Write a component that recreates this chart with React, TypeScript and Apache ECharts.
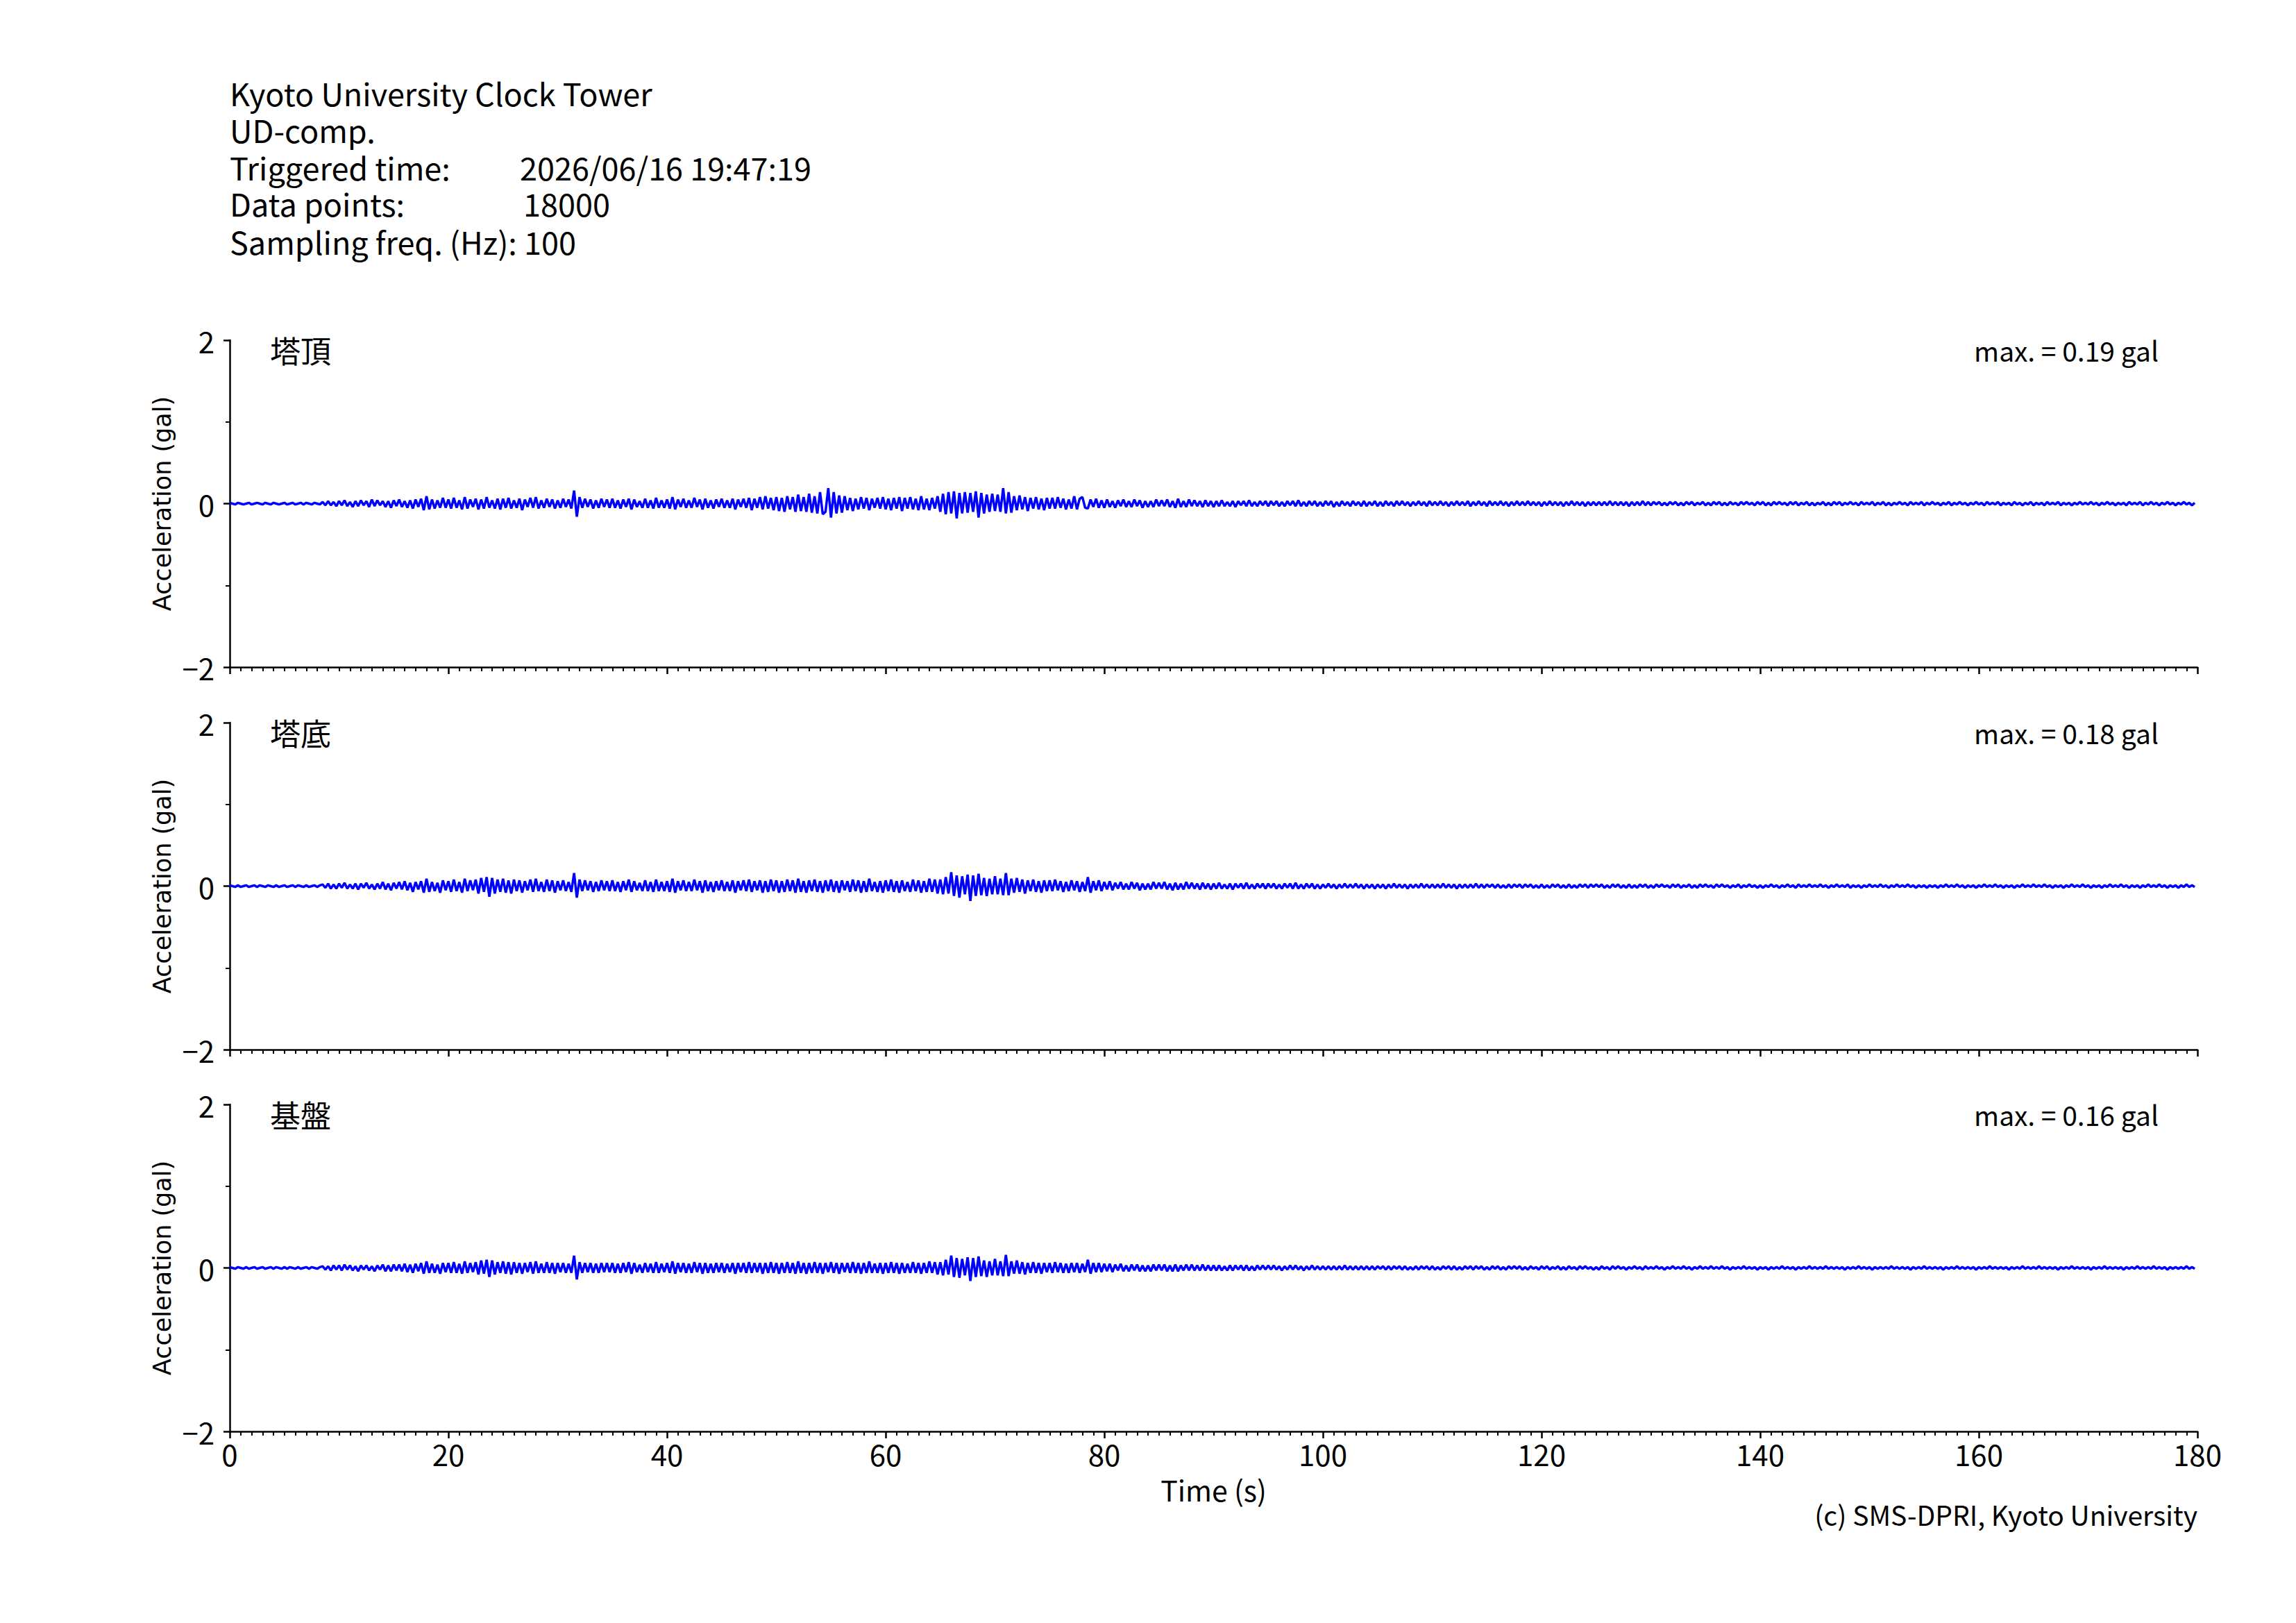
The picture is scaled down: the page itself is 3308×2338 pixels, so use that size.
import React, { useEffect, useRef } from "react";
import * as echarts from "echarts";

// sampling step of the listed peak values (s)
const DT = 0.25;
const X_TICKS = [0, 20, 40, 60, 80, 100, 120, 140, 160, 180];
const Y_TICKS = [-2, 0, 2];

// Acceleration values, in units of 0.01 gal, one row = 5 s
const TOP_ACC = [
  1,0,-1,1,0,-1,0,1,-1,0,1,0,-1,1,0,-1,1,0,-1,0,
  1,-1,0,1,-1,0,1,-1,1,0,-1,1,0,-1,2,-2,3,-2,2,-3,
  3,-2,4,-3,2,-4,3,-3,4,-2,3,-4,5,-3,4,-2,3,-4,3,-5,
  4,-3,5,-4,3,-5,4,-6,5,-4,6,-8,9,-7,5,-6,4,-5,7,-5,
  5,-6,7,-5,4,-7,8,-6,5,-4,6,-7,5,-6,8,-5,4,-6,6,-7,
  6,-5,7,-6,4,-5,6,-8,5,-4,7,-5,8,-6,4,-5,6,-4,5,-6,
  4,-5,6,-4,5,-6,16,-16,8,-5,6,-4,5,-6,4,-5,6,-4,5,-5,
  6,-5,4,-6,5,-4,6,-7,5,-4,3,-5,6,-5,4,-6,7,-5,4,-5,
  5,-6,8,-7,5,-4,6,-5,4,-5,7,-4,5,-7,6,-5,4,-6,5,-4,
  6,-5,4,-5,6,-7,5,-4,6,-5,7,-8,6,-5,8,-7,9,-6,7,-8,
  8,-9,7,-10,9,-7,8,-10,11,-9,8,-10,12,-11,9,-12,14,-13,-10,19,
  -17,14,-12,10,-11,9,-8,7,-9,6,-7,8,-6,7,-8,6,-5,7,-6,8,
  -7,6,-8,7,-6,8,-9,7,-6,8,-7,6,-8,9,-7,6,-8,7,-6,9,
  -10,12,-13,14,-12,15,-18,13,-12,14,-11,13,-10,15,-17,13,-12,11,-10,12,
  -9,11,-10,19,-12,14,-11,9,-8,10,-7,8,-9,7,-6,8,-7,6,-8,7,
  -6,7,-6,8,-5,6,-7,5,-6,9,-7,6,8,-5,-6,5,-4,6,-5,4,
  -5,5,-4,3,-5,4,-3,5,-4,3,-4,5,-3,4,-5,3,-4,3,-4,5,
  -3,4,-3,5,-4,3,-5,6,-4,3,-4,5,-3,4,-3,3,-4,4,-3,3,
  -4,3,-3,4,-3,2,-3,3,-4,3,-2,3,-3,4,-3,2,-3,3,-2,3,
  -3,3,-2,3,-3,2,-3,3,-2,3,-3,4,-3,2,-3,3,-2,3,-3,2,
  -3,3,-2,3,-4,2,-3,3,-2,2,-3,3,-2,2,-3,3,-3,2,-2,3,
  -3,2,-3,3,-2,2,-3,3,-2,3,-2,2,-3,2,-2,3,-2,2,-3,3,
  -2,2,-2,3,-2,2,-3,2,-2,3,-2,2,-2,3,-3,2,-2,3,-2,2,
  -3,3,-2,2,-2,3,-2,2,-3,2,-2,3,-2,2,-2,3,-2,2,-2,2,
  -3,2,-2,3,-2,2,-2,2,-3,2,-2,3,-2,2,-2,2,-3,2,-2,2,
  -2,2,-2,2,-2,3,-2,2,-2,2,-2,2,-3,2,-2,2,-2,3,-2,2,
  -2,2,-1,2,-2,1,-2,2,-1,2,-2,1,-2,2,-1,2,-2,1,-1,2,
  -2,1,-2,2,-1,2,-2,1,-2,2,-1,1,-2,2,-1,2,-1,1,-2,2,
  -1,2,-2,1,-2,2,-1,2,-1,1,-2,2,-1,2,-2,1,-1,2,-2,1,
  -2,1,-1,2,-2,1,-2,2,-1,2,-2,1,-1,2,-1,1,-2,2,-1,1,
  -1,2,-2,1,-1,2,-2,1,-2,1,-1,2,-1,1,-2,2,-1,1,-1,2,
  -2,1,-1,2,-1,1,-2,1,-1,2,-2,1,-1,2,-1,1,-2,1,-1,2,
  -1,1,-2,2,-1,1,-1,2,-2,1,-1,1,-2,2,-1,1,-2,1,-1,2,
  -2,1,-1,1,-2,2,-1,1,-1,2,-2,1,-1,1,-2,1,-1,2,-1,1,
  -1,2,-1,1,-2,1,-1,2,-1,1,-2,1,-1,1,-2,2,-1,1,-1,2,
  -2,1,-1,2,-1,1,-2,1,-1,2,-1,1,-2,1,-1,2,-1,1,-2,1,
];

const BASE_ACC = [
  1,0,-1,1,-1,0,1,-1,0,1,-1,1,0,-1,1,0,-1,1,-1,0,
  1,-1,0,1,-1,1,0,-1,1,-1,0,1,-1,1,2,-2,3,-3,2,-3,
  3,-2,4,-3,2,-3,3,-4,3,-2,4,-3,2,-4,3,-3,5,-4,3,-5,
  4,-3,5,-4,6,-5,4,-7,5,-4,6,-8,9,-7,5,-6,4,-8,7,-5,
  6,-7,8,-6,5,-8,9,-6,7,-5,8,-9,10,-7,11,-13,10,-9,8,-7,
  9,-8,7,-9,8,-6,7,-8,6,-5,8,-7,9,-6,5,-7,8,-6,7,-8,
  6,-5,7,-6,5,-7,16,-14,8,-6,7,-5,6,-7,5,-6,7,-5,6,-6,
  7,-6,5,-7,6,-5,8,-7,6,-5,4,-6,7,-6,5,-7,8,-6,5,-6,
  6,-7,9,-8,6,-5,7,-6,5,-6,8,-5,6,-8,7,-6,5,-7,6,-5,
  7,-6,5,-6,7,-8,6,-5,7,-6,8,-7,6,-5,7,-8,6,-7,8,-6,
  7,-8,6,-7,8,-6,7,-8,9,-7,6,-8,7,-6,8,-7,6,-8,7,-6,
  8,-7,6,-8,7,-5,6,-7,8,-6,7,-8,6,-7,9,-6,5,-7,6,-8,
  7,-6,8,-7,6,-8,7,-6,5,-7,8,-6,7,-8,6,-7,9,-7,8,-9,
  8,-10,11,-9,17,-12,13,-14,12,-10,14,-18,13,-12,15,-11,10,-12,9,-10,
  12,-10,9,-11,16,-11,9,-8,10,-7,8,-9,7,-6,8,-7,6,-8,7,-6,
  7,-6,8,-5,6,-7,5,-6,7,-5,6,-7,5,-6,11,-8,6,-5,7,-6,
  5,-4,6,-5,4,-3,5,-4,3,-4,5,-3,4,-5,3,-4,3,-4,5,-3,
  4,-3,5,-4,3,-5,4,-4,3,-4,5,-3,4,-3,3,-4,4,-3,3,-4,
  3,-3,4,-3,2,-3,3,-4,3,-2,3,-3,4,-3,2,-3,3,-2,3,-3,
  3,-2,3,-3,2,-3,3,-2,3,-3,4,-3,2,-3,3,-2,3,-3,2,-3,
  2,-2,3,-2,2,-3,2,-2,3,-2,2,-2,3,-2,2,-3,2,-2,2,-3,
  2,-2,2,-3,2,-2,3,-2,2,-2,2,-3,2,-2,2,-2,3,-2,2,-2,
  2,-2,2,-2,3,-2,2,-2,2,-3,2,-2,2,-2,2,-2,3,-2,2,-2,
  2,-1,2,-2,2,-2,1,-2,2,-2,2,-1,2,-2,2,-1,2,-2,1,-2,
  2,-2,1,-2,2,-1,2,-2,1,-2,2,-2,1,-2,2,-1,2,-2,2,-1,
  2,-1,2,-2,1,-2,2,-1,2,-2,1,-2,2,-2,1,-2,2,-1,2,-2,
  1,-2,2,-1,2,-1,1,-2,2,-1,2,-2,1,-1,2,-2,1,-2,2,-1,
  2,-1,1,-2,2,-1,2,-1,1,-2,1,-1,2,-2,1,-1,2,-1,1,-2,
  1,-2,1,-1,2,-1,1,-2,1,-1,2,-1,1,-2,2,-1,1,-1,2,-1,
  1,-1,2,-1,1,-2,1,-1,2,-1,1,-1,2,-2,1,-1,1,-2,1,-1,
  2,-1,1,-1,2,-1,1,-2,1,-1,2,-1,1,-1,2,-1,1,-2,1,-1,
  1,-2,1,-1,1,-2,1,-1,2,-1,1,-1,2,-1,1,-2,1,-1,1,-2,
  1,-1,2,-1,1,-1,2,-1,1,-2,1,-1,1,-2,1,-1,2,-1,1,-1,
  2,-1,1,-1,2,-1,1,-2,1,-1,1,-2,1,-1,2,-1,1,-1,2,-1,
  1,-2,1,-1,1,-2,1,-1,2,-1,1,-1,2,-1,1,-2,1,-1,1,-2,
  1,-1,2,-1,1,-1,2,-1,1,-2,1,-1,1,-2,1,-1,2,-1,1,-1,
];

const GROUND_ACC = [
  1,0,-1,1,0,-1,1,-1,0,1,-1,0,1,-1,0,1,-1,1,0,-1,
  1,-1,1,0,-1,1,-1,0,1,-1,1,0,-1,1,2,-2,2,-3,3,-2,
  3,-3,4,-2,3,-3,2,-4,3,-2,3,-3,2,-4,3,-2,4,-4,3,-4,
  4,-3,4,-4,5,-5,4,-6,5,-4,6,-7,8,-6,5,-6,4,-7,6,-5,
  6,-6,7,-6,5,-7,8,-6,6,-5,7,-8,9,-7,10,-11,9,-8,7,-6,
  8,-7,7,-8,7,-6,6,-7,6,-5,7,-7,8,-6,5,-6,7,-6,6,-7,
  6,-5,6,-6,5,-6,15,-14,7,-6,6,-5,6,-6,5,-6,6,-5,6,-5,
  6,-6,5,-6,6,-5,7,-7,6,-5,4,-6,6,-5,5,-6,7,-6,5,-5,
  6,-6,8,-7,6,-5,6,-6,5,-6,7,-5,6,-7,6,-6,5,-6,6,-5,
  6,-6,5,-5,6,-7,6,-5,6,-6,7,-6,6,-5,6,-7,6,-6,7,-6,
  6,-7,6,-6,7,-6,6,-7,8,-6,6,-7,6,-6,7,-6,6,-7,6,-5,
  7,-6,6,-7,6,-5,6,-6,7,-6,6,-7,6,-6,8,-6,5,-6,6,-7,
  6,-6,7,-6,6,-7,6,-6,5,-6,7,-6,6,-7,6,-6,8,-6,7,-8,
  7,-9,10,-8,15,-11,12,-12,11,-9,13,-16,12,-11,14,-10,9,-11,8,-9,
  11,-9,8,-10,16,-10,8,-7,9,-7,7,-8,6,-6,7,-6,6,-7,6,-5,
  6,-6,7,-5,6,-6,5,-6,6,-5,6,-6,5,-5,10,-7,6,-5,6,-5,
  5,-4,5,-5,4,-3,5,-4,3,-4,4,-3,4,-4,3,-4,3,-4,4,-3,
  4,-3,4,-4,3,-4,4,-4,3,-3,4,-3,4,-3,3,-3,4,-3,3,-3,
  3,-3,3,-3,2,-3,3,-3,3,-2,3,-3,3,-3,2,-3,3,-2,3,-2,
  3,-2,3,-2,2,-3,2,-2,3,-2,3,-2,2,-3,2,-2,3,-2,2,-2,
  2,-2,2,-2,2,-2,2,-2,3,-2,2,-2,2,-2,2,-2,2,-2,2,-2,
  2,-1,2,-2,2,-2,2,-1,2,-2,2,-2,1,-2,2,-2,2,-1,2,-2,
  2,-2,1,-2,2,-1,2,-2,2,-2,1,-2,2,-1,2,-2,2,-1,2,-2,
  1,-2,2,-1,2,-2,1,-2,2,-1,2,-1,2,-2,1,-2,2,-1,1,-2,
  2,-1,2,-2,1,-1,2,-2,1,-2,2,-1,1,-2,2,-1,2,-1,1,-2,
  1,-2,2,-1,1,-2,2,-1,2,-1,1,-2,1,-1,2,-1,1,-2,2,-1,
  1,-1,2,-1,1,-2,1,-1,2,-1,1,-1,2,-1,1,-2,1,-1,2,-1,
  1,-1,2,-1,1,-1,2,-1,1,-2,1,-1,1,-1,2,-1,1,-1,1,-2,
  1,-1,1,-2,1,-1,1,-1,2,-1,1,-1,1,-2,1,-1,1,-1,2,-1,
  1,-1,1,-1,2,-1,1,-1,1,-1,1,-2,1,-1,1,-1,2,-1,1,-1,
  1,-2,1,-1,1,-1,1,-1,2,-1,1,-1,1,-1,1,-2,1,-1,1,-1,
  2,-1,1,-1,1,-1,1,-2,1,-1,1,-1,2,-1,1,-1,1,-1,1,-2,
  1,-1,1,-1,2,-1,1,-1,1,-1,1,-2,1,-1,1,-1,2,-1,1,-1,
  1,-1,2,-1,1,-1,1,-1,1,-2,1,-1,1,-1,2,-1,1,-1,1,-1,
  1,-2,1,-1,1,-1,2,-1,1,-1,1,-1,1,-2,1,-1,1,-1,2,-1,
  1,-1,1,-1,2,-1,1,-1,1,-2,1,-1,1,-1,1,-1,2,-1,1,-1,
];

const PANEL_NAMES = ["塔頂", "塔底", "基盤"];
const PANEL_MAX = ["max. = 0.19 gal", "max. = 0.18 gal", "max. = 0.16 gal"];
const TRACES = [TOP_ACC, BASE_ACC, GROUND_ACC];

const HEADER_LINES = [
  "Kyoto University Clock Tower",
  "UD-comp.",
  "Triggered time:",
  "Data points:",
  "Sampling freq. (Hz): 100",
];
const TRIGGERED = "2026/06/16 19:47:19";
const POINTS = "18000";

const JP = "'Noto Sans CJK JP', 'Noto Sans', sans-serif";
const DV = "'DejaVu Sans', sans-serif";

const GRID_TOPS = [490, 1041, 1591];
const GRID_H = 471;
const GRID_L = 331;
const GRID_W = 2835;

function fmtY(v: number) {
  return v < 0 ? "\u2212" + Math.abs(v) : String(v);
}

export default function App() {
  const ref = useRef<HTMLDivElement>(null);
  useEffect(() => {
    if (!ref.current) return;
    const chart = echarts.init(ref.current, null, { renderer: "svg" });

    const grids = GRID_TOPS.map((t) => ({ left: GRID_L, top: t, width: GRID_W, height: GRID_H }));
    const xAxes = GRID_TOPS.map((_, i) => ({
      type: "value",
      gridIndex: i,
      min: X_TICKS[0],
      max: X_TICKS[X_TICKS.length - 1],
      interval: X_TICKS[1] - X_TICKS[0],
      axisLine: { show: true, onZero: false, lineStyle: { color: "#000", width: 2.5 } },
      axisTick: { show: true, inside: false, length: 10, lineStyle: { color: "#000", width: 2.5 } },
      minorTick: { show: true, splitNumber: 20, length: 6, lineStyle: { color: "#000", width: 2 } },
      splitLine: { show: false },
      minorSplitLine: { show: false },
      axisLabel: {
        show: i === 2,
        color: "#000",
        fontSize: 42,
        fontFamily: JP,
        margin: 10,
      },
    }));
    const yAxes = GRID_TOPS.map((_, i) => ({
      type: "value",
      gridIndex: i,
      min: Y_TICKS[0],
      max: Y_TICKS[Y_TICKS.length - 1],
      interval: Y_TICKS[1] - Y_TICKS[0],
      name: "Acceleration (gal)",
      nameLocation: "middle",
      nameRotate: 90,
      nameGap: 78,
      nameTextStyle: { fontFamily: DV, fontSize: 35, color: "#000" },
      axisLine: { show: true, onZero: false, lineStyle: { color: "#000", width: 2.5 } },
      axisTick: { show: true, inside: false, length: 9, lineStyle: { color: "#000", width: 2.5 } },
      minorTick: { show: true, splitNumber: 2, length: 6, lineStyle: { color: "#000", width: 2 } },
      splitLine: { show: false },
      minorSplitLine: { show: false },
      axisLabel: {
        color: "#000",
        fontSize: 42,
        fontFamily: JP,
        margin: 22,
        formatter: fmtY,
      },
    }));

    const series = TRACES.map((arr, i) => ({
      type: "line",
      xAxisIndex: i,
      yAxisIndex: i,
      data: arr.map((v, k) => [k * DT, v * 0.01]),
      showSymbol: false,
      symbol: "none",
      lineStyle: { color: "#0000ff", width: 3.5 },
      itemStyle: { color: "#0000ff" },
      z: 3,
    }));

    const headerBaselines = [153, 206, 260, 312, 367];
    const graphics: any[] = [];
    const txt = (x: number, y: number, text: string, size: number, align: string) => ({
      type: "text",
      x,
      y,
      style: {
        text,
        fill: "#000",
        font: `${size}px ${JP}`,
        textAlign: align,
        verticalAlign: "middle",
        lineHeight: Math.round(size * 1.05),
      },
    });
    HEADER_LINES.forEach((line, i) => {
      graphics.push(txt(331, headerBaselines[i] - 20, line, 45, "left"));
    });
    graphics.push(txt(749, headerBaselines[2] - 20, TRIGGERED, 45, "left"));
    graphics.push(txt(754, headerBaselines[3] - 20, POINTS, 45, "left"));
    GRID_TOPS.forEach((t, i) => {
      graphics.push(txt(389, t + 14, PANEL_NAMES[i], 44, "left"));
      graphics.push(txt(3110, t + 14, PANEL_MAX[i], 39, "right"));
    });
    graphics.push(txt(GRID_L + GRID_W / 2, 2145, "Time (s)", 41, "center"));
    graphics.push(txt(GRID_L + GRID_W, 2181, "(c) SMS-DPRI, Kyoto University", 39, "right"));

    chart.setOption({
      animation: false,
      backgroundColor: "#fff",
      grid: grids,
      xAxis: xAxes,
      yAxis: yAxes,
      series,
      graphic: { elements: graphics },
    } as any);
    return () => chart.dispose();
  }, []);
  return (
    <div
      ref={ref}
      style={{ position: "absolute", left: 0, top: 0, width: 3308, height: 2338, background: "#fff" }}
    />
  );
}
